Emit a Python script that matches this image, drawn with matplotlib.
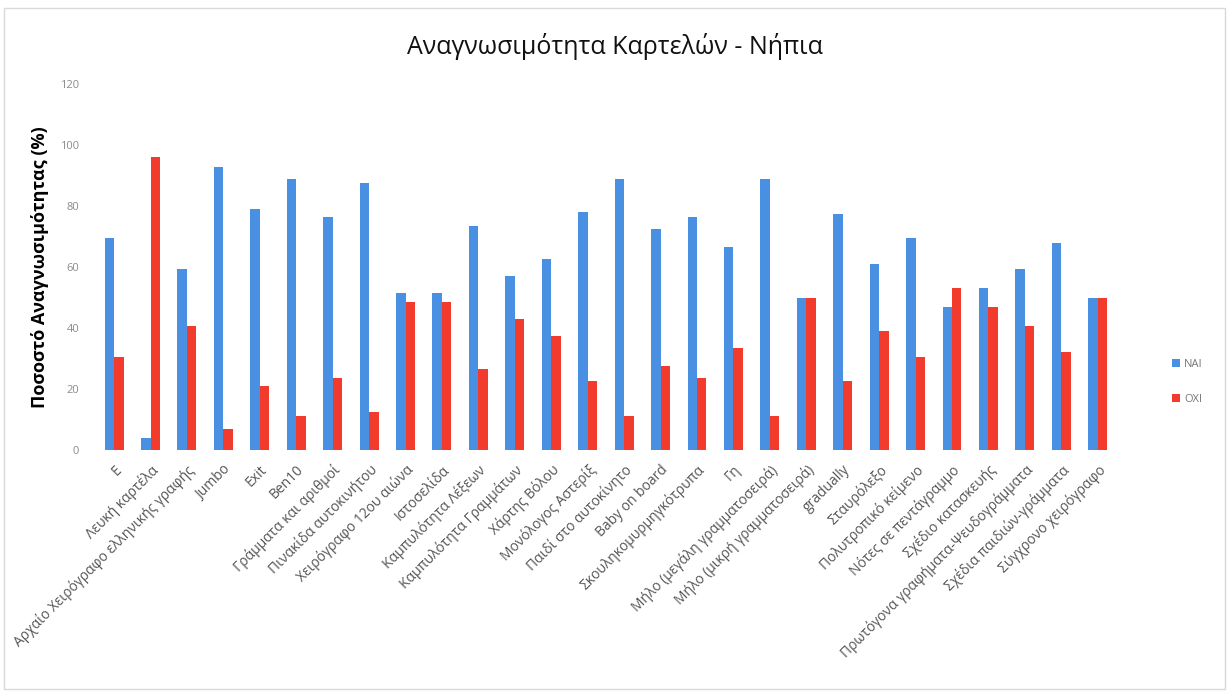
import numpy as np
import matplotlib
matplotlib.use('Agg')
import matplotlib.pyplot as plt

plt.rcParams['font.family'] = ['Open Sans', 'DejaVu Sans']

# categories (cards)
cards = ['Ε', 'Λευκή καρτέλα', 'Αρχαίο Χειρόγραφο ελληνικής γραφής', 'Jumbo', 'Exit',
         'Ben10', 'Γράμματα και αριθμοί', 'Πινακίδα αυτοκινήτου', 'Χειρόγραφο 12ου αιώνα',
         'Ιστοσελίδα', 'Καμπυλότητα Λέξεων', 'Καμπυλότητα Γραμμάτων', 'Χάρτης Βόλου',
         'Μονόλογος Αστερίξ', 'Παιδί στο αυτοκίνητο', 'Baby on board',
         'Σκουληκομυρμηγκότρυπα', 'Γη', 'Μήλο (μεγάλη γραμματοσειρά)',
         'Μήλο (μικρή γραμματοσειρά)', 'gradually', 'Σταυρόλεξο', 'Πολυτροπικό κείμενο',
         'Νότες σε πεντάγραμμο', 'Σχέδιο κατασκευής', 'Πρωτόγονα γραφήματα-Ψευδογράμματα',
         'Σχέδια παιδιών-γράμματα', 'Σύγχρονο χειρόγραφο']

nai = [69.5, 4, 59.5, 93, 79, 89, 76.5, 87.5, 51.5, 51.5, 73.5, 57, 62.5, 78,
       89, 72.5, 76.5, 66.5, 89, 50, 77.5, 61, 69.5, 47, 53, 59.5, 68, 50]
oxi = [30.5, 96, 40.5, 7, 21, 11, 23.5, 12.5, 48.5, 48.5, 26.5, 43, 37.5, 22.5,
       11, 27.5, 23.5, 33.5, 11, 50, 22.5, 39, 30.5, 53, 47, 40.5, 32, 50]

yticks = [0, 20, 40, 60, 80, 100, 120]

blue = '#4a90e2'
red = '#f23b2c'

fig = plt.figure(figsize=(12.29, 6.91), dpi=100)
ax = fig.add_axes([0.078, 0.349, 0.83, 0.529])

x = np.arange(len(cards))
w = 0.26
ax.bar(x - w / 2, nai, w, color=blue, label='ΝΑΙ')
ax.bar(x + w / 2, oxi, w, color=red, label='ΟΧΙ')

ax.set_xlim(-0.5, len(cards) - 0.5)
ax.set_ylim(0, 120)
ax.set_yticks(yticks)
ax.tick_params(axis='y', length=0, labelsize=8, labelcolor='#8a8a8a', pad=12)
ax.tick_params(axis='x', length=0, pad=9)
ax.set_xticks(x)
ax.set_xticklabels(cards, rotation=45, ha='right', rotation_mode='anchor',
                   fontsize=10, color='#555555')
for s in ax.spines.values():
    s.set_visible(False)

ax.set_ylabel('Ποσοστό Αναγνωσιμότητας (%)', fontsize=13, fontweight='bold', labelpad=8)
fig.text(0.5, 0.933, 'Αναγνωσιμότητα Καρτελών - Νήπια', ha='center', va='center',
         fontsize=18, color='#111111')

ax.legend(loc='center left', bbox_to_anchor=(1.045, 0.186), frameon=False,
          fontsize=8, labelcolor='#777777', handlelength=0.7, handleheight=0.7,
          handletextpad=0.4, labelspacing=2.2)

# faint frame around the chart
fig.patches.append(plt.Rectangle((0.003, 0.003), 0.994, 0.985, transform=fig.transFigure,
                                 fill=False, edgecolor='#d9d9d9', linewidth=1))

fig.savefig('out.png', dpi=100)
